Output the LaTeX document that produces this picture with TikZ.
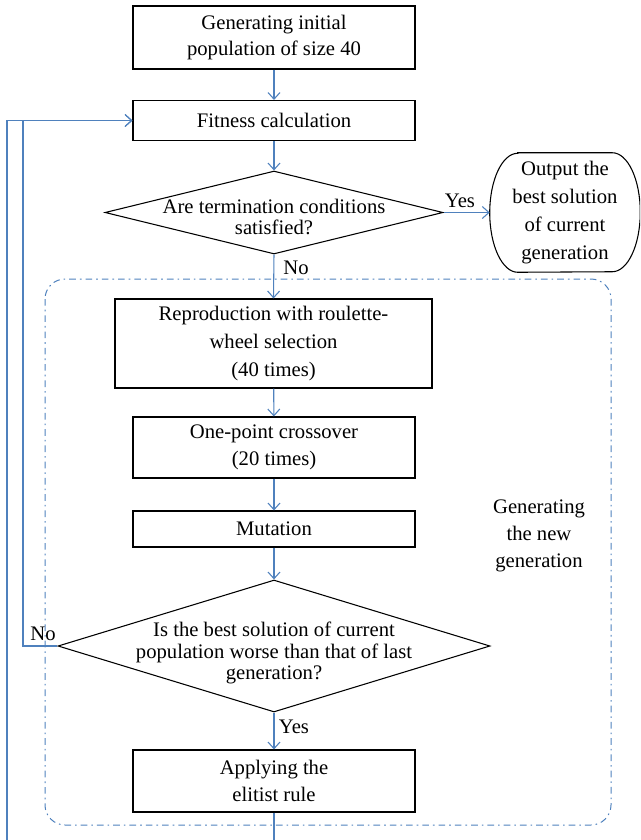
\documentclass[tikz,border=0pt]{standalone}
\usepackage{fontspec}
\setmainfont{Liberation Serif}
\usetikzlibrary{arrows.meta,shapes.geometric}
\definecolor{lineblue}{HTML}{4F81BD}
\begin{document}
\begin{tikzpicture}[x=0.75pt,y=-0.75pt,
  every node/.style={font=\fontsize{15.5}{20}\selectfont},
  stepbox/.style={draw=black,line width=0.8pt,rectangle,inner sep=0pt,align=center,minimum width=211.5pt},
  decbox/.style={draw=black,line width=0.8pt,diamond,inner sep=0pt},
  dectext/.style={align=center,font=\fontsize{15.5}{16}\selectfont,inner sep=0pt},
  conn/.style={draw=lineblue,line width=0.8pt,-{Straight Barb[length=5pt,width=9pt]}},
  lbl/.style={inner sep=0pt}
]
\useasboundingbox (0,0) rectangle (640,840);
\clip (0,0) rectangle (640,840);

% group box
\draw[lineblue,line width=0.75pt,rounded corners=15pt,dash pattern=on 5pt off 3pt on 1.2pt off 3pt]
  (45,279) rectangle (611,825);
\node[align=center,lbl,font=\fontsize{15.5}{20.25}\selectfont] (grp) at (539,536) {Generating\\the new\\generation};

\node[stepbox,minimum height=47.25pt] (b1) at (274,37.5) {Generating initial\\population of size 40};
\node[stepbox,minimum height=30pt] (fit) at (274,120.5) {Fitness calculation};
\node[decbox,minimum width=253.5pt,minimum height=62.25pt] (d1) at (274,212.5) {};
\node[dectext] (d1t) at (274,217) {Are termination conditions\\satisfied?};
\node[rectangle,minimum width=112.5pt,minimum height=89.25pt,inner sep=0pt,align=center,font=\fontsize{15.5}{21}\selectfont] (out) at (565,212.5) {Output the\\best solution\\of current\\generation};
\draw[black,line width=0.8pt] ([xshift=21pt]out.north west) -- ([xshift=-21pt]out.north east)
  arc[start angle=90,end angle=-90,x radius=21pt,y radius=44.625pt]
  -- ([xshift=21pt]out.south west)
  arc[start angle=270,end angle=90,x radius=21pt,y radius=44.625pt] -- cycle;
\node[stepbox,minimum width=237.75pt,minimum height=66.75pt,font=\fontsize{15.5}{21}\selectfont] (rep) at (273.5,343.5) {Reproduction with roulette-\\wheel selection\\(40 times)};
\node[stepbox,minimum height=45.75pt] (cro) at (274,447.5) {One-point crossover\\(20 times)};
\node[stepbox,minimum height=27pt] (mut) at (274,529) {Mutation};
\node[decbox,minimum width=324pt,minimum height=99pt] (d2) at (274,646) {};
\node[dectext] (d2t) at (274,653) {Is the best solution of current\\population worse than that of last\\generation?};
\node[stepbox,minimum height=46.5pt] (app) at (274,781) {Applying the\\elitist rule};

% connectors
\draw[conn] (b1) -- (fit);
\draw[conn] (fit) -- (d1);
\draw[conn] (d1.east) -- (out.west);
\draw[conn] (d1.south) -- (rep.north);
\draw[conn] (rep) -- (cro);
\draw[conn] (cro) -- (mut);
\draw[conn] (mut.south) -- (d2.north);
\draw[conn] (d2.south) -- (app.north);

\coordinate (nl) at (23,646);
\draw[conn] (d2.west) -- (nl) |- (fit.west);
\coordinate (bl) at (274,870);
\coordinate (bll) at (7,870);
\draw[conn] (app.south) -- (bl) -- (bll) |- (fit.west);

% labels
\node[lbl] (yes1) at (460,201) {Yes};
\node[lbl] (no1) at (296,268) {No};
\node[lbl] (no2) at (43,634) {No};
\node[lbl] (yes2) at (294,727) {Yes};
\end{tikzpicture}
\end{document}
